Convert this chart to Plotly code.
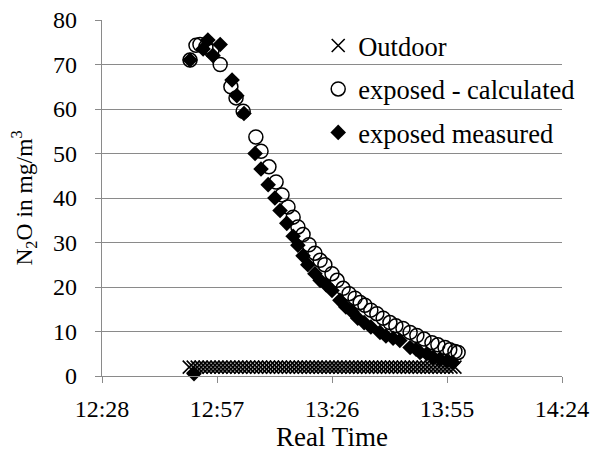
import plotly.graph_objects as go
import pandas as pd

# times are minutes after 12:28
outdoor_min = [22, 23, 24, 25, 26, 27, 28, 29, 30, 31, 32, 33, 34, 35, 36, 37, 38, 39, 40, 41,
               42, 43, 44, 45, 46, 47, 48, 49, 50, 51, 52, 53, 54, 55, 56, 57, 58, 59, 60, 61,
               62, 63, 64, 65, 66, 67, 68, 69, 70, 71, 72, 73, 74, 75, 76, 77, 78, 79, 80, 81,
               82, 83, 84, 85, 86, 87, 88, 89]
outdoor_val = [2.0] * len(outdoor_min)

calc_min = [22.2, 23.7, 24.7, 26.2, 27.7, 29.8, 32.5, 33.8, 35.6, 38.8, 40.1, 42.1, 43.9, 45.4,
            46.9, 48.2, 49.4, 50.7, 52.2, 53.7, 55.0, 56.2, 58.0, 59.3, 60.8, 62.3, 63.8, 65.1,
            66.3, 67.8, 69.3, 70.9, 72.6, 74.1, 75.9, 77.7, 79.4, 81.2, 83.2, 84.7, 86.5, 87.7,
            89.0, 89.8]
calc_val = [71, 74.3, 74.5, 74, 73, 70, 65, 62.5, 59.5, 53.7, 50.5, 47, 43.6, 40.7,
            38, 35.7, 33.5, 31.8, 29.5, 27.6, 26, 25, 23, 21.5, 19.7, 18.5, 17.5, 16.5,
            15.9, 14.8, 14, 13, 12, 11.3, 10.7, 9.8, 9.1, 8.3, 7.5, 7, 6.4, 5.9,
            5.5, 5.3]

meas_min = [22.2, 23.2, 25.5, 26.7, 28.0, 29.8, 32.8, 34.0, 35.8, 38.6, 40.1, 41.9, 43.6, 44.9,
            46.6, 48.2, 49.4, 50.7, 51.9, 53.7, 55.0, 56.5, 58.0, 60.0, 61.5, 63.0, 64.5, 66.1,
            67.8, 70.1, 71.6, 73.4, 75.1, 77.7, 79.2, 80.2, 81.9, 83.5, 85.2, 87.0, 88.5]
meas_val = [71, 0.5, 73.5, 75.5, 72, 74.5, 66.5, 63, 59, 50, 46.5, 43, 40, 37.2,
            34.3, 31.4, 29.4, 27, 25, 23, 21.5, 20.5, 19.2, 17, 15.5, 14.5, 13, 12,
            11, 9.8, 9, 8.5, 8, 6.4, 6, 5.3, 5, 4.2, 3.8, 3.3, 3]

start = pd.Timestamp("2020-01-01 12:28")
end = pd.Timestamp("2020-01-01 14:24")
tick_times = [start + pd.Timedelta(minutes=29 * i) for i in range(5)]
tick_labels = ["12:28", "12:57", "13:26", "13:55", "14:24"]


def to_t(mins):
    return [start + pd.Timedelta(minutes=m) for m in mins]


FONT = "Liberation Serif"
GRID = "#8a8a8a"

fig = go.Figure()
fig.add_trace(go.Scatter(
    x=to_t(outdoor_min), y=outdoor_val, mode="markers", name="Outdoor",
    legendgroup="a",
    marker=dict(symbol="x-thin", size=13, color="black", line=dict(color="black", width=1.6)),
    cliponaxis=False))
fig.add_trace(go.Scatter(
    x=to_t(calc_min), y=calc_val, mode="markers", name="exposed - calculated",
    legendgroup="b",
    marker=dict(symbol="circle-open", size=14, color="black", line=dict(color="black", width=1.5)),
    cliponaxis=False))
fig.add_trace(go.Scatter(
    x=to_t(meas_min), y=meas_val, mode="markers", name="exposed measured",
    legendgroup="c",
    marker=dict(symbol="diamond", size=12, color="black"),
    cliponaxis=False))

fig.update_layout(
    width=592, height=454,
    margin=dict(l=102, r=30, t=20, b=78, autoexpand=False),
    paper_bgcolor="white", plot_bgcolor="white",
    font=dict(family=FONT, size=24, color="black"),
    showlegend=True,
    legend=dict(x=0.47, y=0.995, xanchor="left", yanchor="top",
                bgcolor="rgba(0,0,0,0)", font=dict(family=FONT, size=26.5, color="black"),
                traceorder="grouped", tracegroupgap=6, itemsizing="trace"),
    xaxis=dict(
        type="date", range=[start, end], automargin=False,
        tickvals=tick_times, ticktext=tick_labels,
        showgrid=False, zeroline=False,
        showline=True, linecolor=GRID, linewidth=1.3,
        ticks="outside", ticklen=6, tickcolor=GRID, tickwidth=1.3,
        ticklabelstandoff=5,
        tickfont=dict(family=FONT, size=24),
        title=dict(text="Real Time", font=dict(family=FONT, size=27), standoff=3),
    ),
    yaxis=dict(
        range=[0, 80], dtick=10, tick0=0, automargin=False,
        showgrid=True, gridcolor=GRID, gridwidth=1.3, zeroline=False,
        showline=True, linecolor=GRID, linewidth=1.3,
        ticks="outside", ticklen=6, tickcolor=GRID, tickwidth=1.3,
        ticklabelstandoff=13,
        tickfont=dict(family=FONT, size=24),
        title=dict(text="N<sub>2</sub>O in mg/m<sup>3</sup>", font=dict(family=FONT, size=23.5), standoff=13),
    ),
)

fig.write_html("out.html", config={"displayModeBar": False},
               post_script="document.body.style.margin='0';")
